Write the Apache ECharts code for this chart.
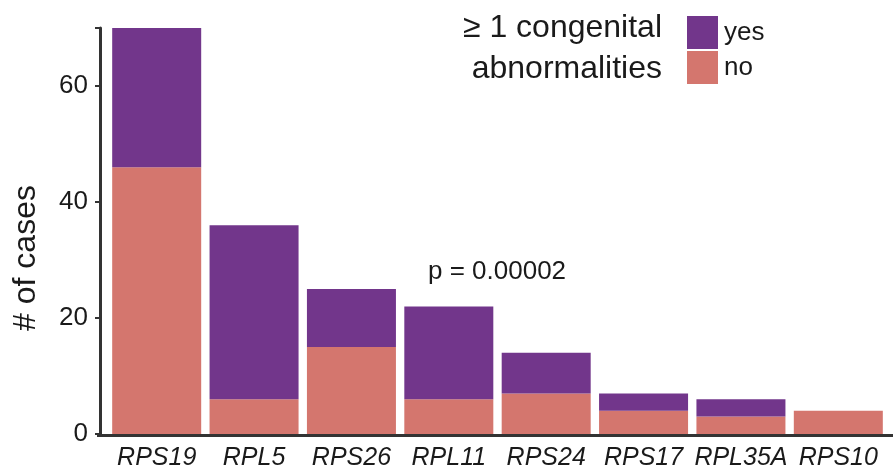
<!DOCTYPE html>
<html><head><meta charset="utf-8">
<script src="https://cdn.jsdelivr.net/npm/echarts@6/dist/echarts.min.js"></script>
<style>html,body{margin:0;padding:0;background:#fff}#c{width:893px;height:472px}</style>
</head><body><div id="c"></div>
<script>
var categories = ['RPS19','RPL5','RPS26','RPL11','RPS24','RPS17','RPL35A','RPS10'];
var noValues = [46, 6, 15, 6, 7, 4, 3, 4];
var yesValues = [24, 30, 10, 16, 7, 3, 3, 0];
var yTicks = [0, 20, 40, 60];
var legendTitle = ['≥ 1 congenital', 'abnormalities'];
var yAxisTitle = '# of cases';
var annotation = 'p = 0.00002';

var FONT = '"Liberation Sans", Arial, sans-serif';
var TXT = '#1a1a1a';
var chart = echarts.init(document.getElementById('c'));
chart.setOption({
  animation: false,
  grid: {left: 108, right: 6, top: 28, bottom: 38},
  xAxis: {
    type: 'category', data: categories,
    axisLine: {show: false}, axisTick: {show: false},
    axisLabel: {fontFamily: FONT, fontSize: 25, fontStyle: 'italic', color: TXT, margin: 12, interval: 0}
  },
  yAxis: {
    type: 'value', min: 0, max: 70, interval: 20, offset: 8,
    splitLine: {show: false},
    axisLine: {show: true, lineStyle: {color: '#333', width: 3}},
    axisTick: {show: true, length: 5, lineStyle: {color: '#333', width: 2}},
    axisLabel: {fontFamily: FONT, fontSize: 26, color: TXT, margin: 12,
      formatter: function(v){ return yTicks.indexOf(v) >= 0 ? String(v) : ''; }}
  },
  legend: {
    orient: 'vertical', left: 682, top: 11, itemWidth: 31, itemHeight: 33, itemGap: 2,
    icon: 'rect', data: ['yes', 'no'],
    textStyle: {fontFamily: FONT, fontSize: 26, color: TXT, padding: [0, 0, 7, 1]}
  },
  series: [
    {name: 'no', type: 'bar', stack: 's', data: noValues, barCategoryGap: '8.6%',
     itemStyle: {color: '#D4766E'}},
    {name: 'yes', type: 'bar', stack: 's', data: yesValues, barCategoryGap: '8.6%',
     itemStyle: {color: '#72368B'}}
  ],
  graphic: [
    {type: 'line', shape: {x1: 97, y1: 435.5, x2: 893, y2: 435.5}, style: {stroke: '#333', lineWidth: 3}, z: 10},
    {type: 'text', x: 26, y: 258, rotation: Math.PI / 2, style: {text: yAxisTitle, font: '32px ' + FONT, fill: TXT, align: 'center', verticalAlign: 'middle'}},
    {type: 'text', x: 662, y: 28, style: {text: legendTitle[0], font: '32px ' + FONT, fill: TXT, align: 'right', verticalAlign: 'middle'}},
    {type: 'text', x: 662, y: 69, style: {text: legendTitle[1], font: '32px ' + FONT, fill: TXT, align: 'right', verticalAlign: 'middle'}},
    {type: 'text', x: 428, y: 272, style: {text: annotation, font: '26px ' + FONT, fill: TXT, align: 'left', verticalAlign: 'middle'}}
  ]
});
</script></body></html>
